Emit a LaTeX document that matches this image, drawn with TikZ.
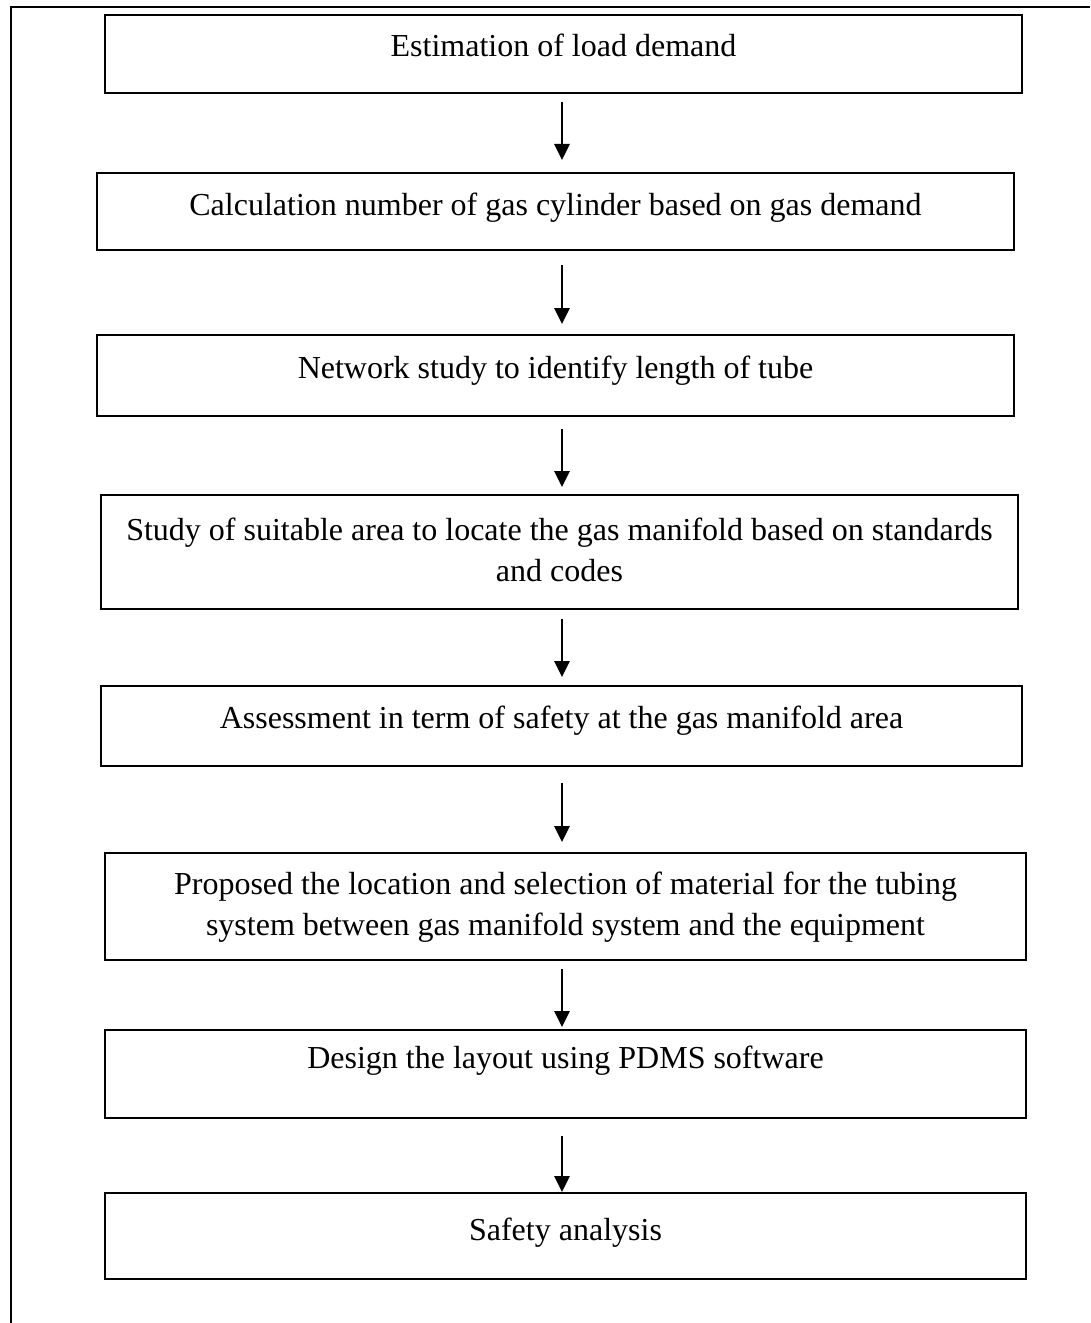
\documentclass[tikz,border=0pt]{standalone}
\usepackage{fontspec}
\setmainfont{Liberation Serif}
\usetikzlibrary{arrows.meta,calc}
\tikzset{
  stepbox/.style={draw=black, line width=1.5pt, rectangle, inner sep=0pt},
  txt/.style={anchor=north, inner sep=0pt, align=center,
    font=\fontsize{24}{30.75}\selectfont},
  arr/.style={draw=black, line width=1.5pt, -{Triangle[length=12pt,width=11.5pt]}},
  frame/.style={draw=black, line width=1.5pt}
}
\begin{document}
\begin{tikzpicture}[x=0.75pt,y=-0.75pt]
\useasboundingbox (0,0) rectangle (1090,1323);
% outer frame (top and left edges)
\coordinate (fTR) at (1090,7);
\coordinate (fTL) at (11,7);
\coordinate (fBL) at (11,1323);
\draw[frame] (fTR) -- (fTL) -- (fBL);
\coordinate (ax) at (562,0);
% boxes
\node[stepbox, minimum width=917*0.75pt, minimum height=78*0.75pt] (b1) at (563.5,54) {};
\node[stepbox, minimum width=917*0.75pt, minimum height=77*0.75pt] (b2) at (555.5,211.5) {};
\node[stepbox, minimum width=917*0.75pt, minimum height=81*0.75pt] (b3) at (555.5,375.5) {};
\node[stepbox, minimum width=917*0.75pt, minimum height=114*0.75pt] (b4) at (559.5,552) {};
\node[stepbox, minimum width=921*0.75pt, minimum height=80*0.75pt] (b5) at (561.5,726) {};
\node[stepbox, minimum width=921*0.75pt, minimum height=107*0.75pt] (b6) at (565.5,906.5) {};
\node[stepbox, minimum width=921*0.75pt, minimum height=88*0.75pt] (b7) at (565.5,1074) {};
\node[stepbox, minimum width=921*0.75pt, minimum height=86*0.75pt] (b8) at (565.5,1236) {};
% texts
\node[txt] (t1) at ($(b1.north)+(0,14)$) {\strut Estimation of load demand};
\node[txt] (t2) at ($(b2.north)+(0,15)$) {\strut Calculation number of gas cylinder based on gas demand};
\node[txt] (t3) at ($(b3.north)+(0,16)$) {\strut Network study to identify length of tube};
\node[txt] (t4) at ($(b4.north)+(0,18)$) {\strut Study of suitable area to locate the gas manifold based on standards\\\strut and codes};
\node[txt] (t5) at ($(b5.north)+(0,15)$) {\strut Assessment in term of safety at the gas manifold area};
\node[txt] (t6) at ($(b6.north)+(0,14)$) {\strut Proposed the location and selection of material for the tubing\\\strut system between gas manifold system and the equipment};
\node[txt] (t7) at ($(b7.north)+(0,11)$) {\strut Design the layout using PDMS software};
\node[txt] (t8) at ($(b8.north)+(0,20)$) {\strut Safety analysis};
% arrows
\draw[arr, shorten <=8*0.75pt, shorten >=12*0.75pt] (b1.south -| ax) -- (b2.north -| ax);
\draw[arr, shorten <=14*0.75pt, shorten >=10*0.75pt] (b2.south -| ax) -- (b3.north -| ax);
\draw[arr, shorten <=12*0.75pt, shorten >=7*0.75pt] (b3.south -| ax) -- (b4.north -| ax);
\draw[arr, shorten <=9*0.75pt, shorten >=8*0.75pt] (b4.south -| ax) -- (b5.north -| ax);
\draw[arr, shorten <=16*0.75pt, shorten >=10*0.75pt] (b5.south -| ax) -- (b6.north -| ax);
\draw[arr, shorten <=8*0.75pt, shorten >=2*0.75pt] (b6.south -| ax) -- (b7.north -| ax);
\draw[arr, shorten <=17*0.75pt, shorten >=0pt] (b7.south -| ax) -- (b8.north -| ax);
\end{tikzpicture}
\end{document}
